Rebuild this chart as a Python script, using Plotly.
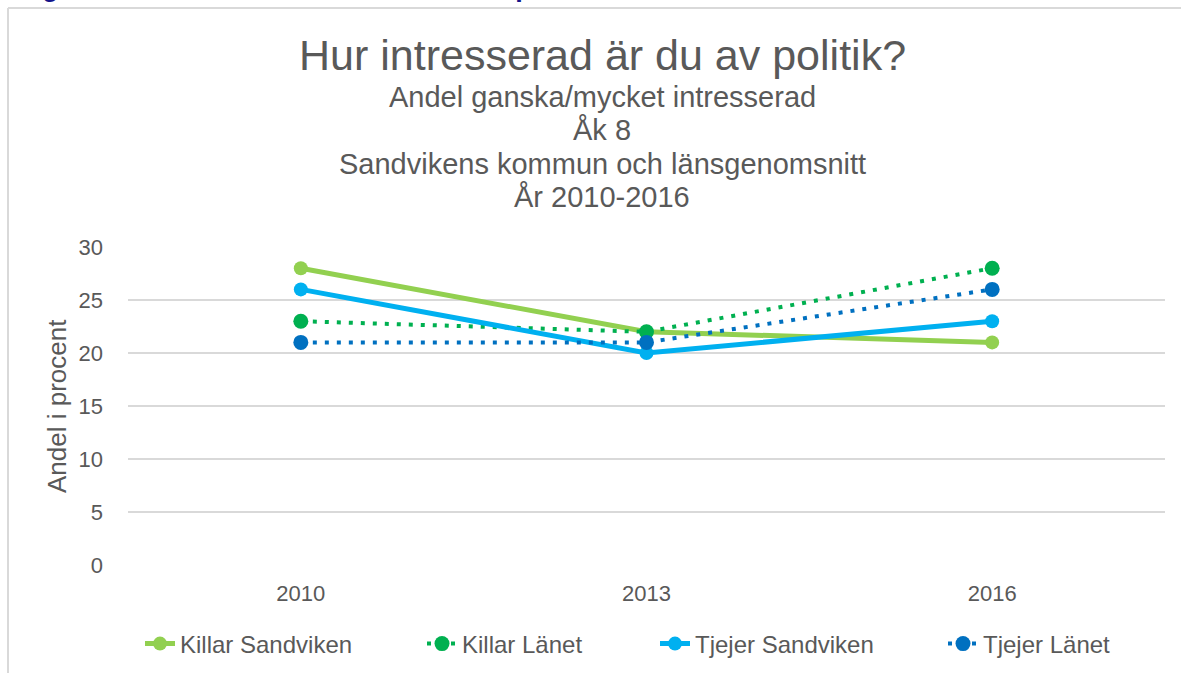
import plotly.graph_objects as go

years = ["2010", "2013", "2016"]
killar_sandviken = [28, 22, 21]
killar_lanet = [23, 22, 28]
tjejer_sandviken = [26, 20, 23]
tjejer_lanet = [21, 21, 26]
y_ticks = [0, 5, 10, 15, 20, 25, 30]

W, H = 1181, 673
L, R, T, B = 128, 16, 247, 108
PW, PH = W - L - R, H - T - B

def px_x(x):
    return (x - L) / PW

def px_y(y):
    return (H - B - y) / PH

FONT = "Liberation Sans, Arial, sans-serif"
GREY = "#595959"

fig = go.Figure()
series = [
    ("Killar Sandviken", killar_sandviken, "#92D050", "solid", 5, 14, "legend", 140),
    ("Killar Länet", killar_lanet, "#00B050", "4px,8px", 4, 15, "legend2", 422),
    ("Tjejer Sandviken", tjejer_sandviken, "#00B0F0", "solid", 5, 14, "legend3", 655),
    ("Tjejer Länet", tjejer_lanet, "#0070C0", "4px,8px", 4, 15, "legend4", 943),
]
legends = {}
for name, vals, col, dash, w, ms, lg, lx in series:
    fig.add_trace(go.Scatter(
        x=years, y=vals, name=name, mode="lines+markers", legend=lg,
        line=dict(color=col, width=w, dash=dash),
        marker=dict(color=col, size=ms),
    ))
    legends[lg] = dict(orientation="h", x=px_x(lx), y=px_y(644), xanchor="left",
                       yanchor="middle", font=dict(family=FONT, size=24, color=GREY),
                       bgcolor="rgba(0,0,0,0)")

annotations = []
title_lines = [
    ("Hur intresserad är du av politik?", 43, 55),
    ("Andel ganska/mycket intresserad", 29, 97),
    ("Åk 8", 29, 130),
    ("Sandvikens kommun och länsgenomsnitt", 29, 164),
    ("År 2010-2016", 29, 197),
]
for txt, sz, yc in title_lines:
    annotations.append(dict(
        text=txt, xref="paper", yref="paper", x=px_x(602), y=px_y(yc),
        xanchor="center", yanchor="middle", showarrow=False,
        font=dict(family=FONT, size=sz, color=GREY),
    ))
annotations.append(dict(
    text="Andel i procent", xref="paper", yref="paper", x=px_x(57), y=px_y(406),
    xanchor="center", yanchor="middle", showarrow=False, textangle=-90,
    font=dict(family=FONT, size=26, color=GREY),
))
annotations.append(dict(
    text="<b>Diagram 1: Andel som är intresserad av politik – åk 8</b>",
    xref="paper", yref="paper", x=px_x(-2), y=px_y(-13),
    xanchor="left", yanchor="middle", showarrow=False,
    font=dict(family=FONT, size=27, color="#14148A"),
))

shapes = [
    dict(type="line", xref="paper", yref="paper", x0=px_x(8), x1=px_x(8),
         y0=px_y(8), y1=px_y(700), line=dict(color="#D9D9D9", width=2)),
    dict(type="line", xref="paper", yref="paper", x0=px_x(8), x1=px_x(1200),
         y0=px_y(8), y1=px_y(8), line=dict(color="#D9D9D9", width=2)),
]

fig.update_layout(
    width=W, height=H,
    margin=dict(l=L, r=R, t=T, b=B, autoexpand=False),
    paper_bgcolor="white", plot_bgcolor="white",
    font=dict(family=FONT, color=GREY),
    showlegend=True,
    xaxis=dict(type="category", range=[-0.5, 2.5], showgrid=False, zeroline=False,
               showline=False, ticks="", tickfont=dict(size=22, color=GREY),
               ticklabelstandoff=13),
    yaxis=dict(range=[0, 30], tickvals=y_ticks, showgrid=True, gridcolor="#D9D9D9",
               gridwidth=1.5, zeroline=False, showline=False, ticks="",
               tickfont=dict(size=22, color=GREY), ticklabelstandoff=24),
    annotations=annotations,
    shapes=shapes,
    **legends,
)

fig.write_html("out.html", config={"displayModeBar": False},
               post_script="document.body.style.margin='0px';document.body.style.overflow='hidden';")
